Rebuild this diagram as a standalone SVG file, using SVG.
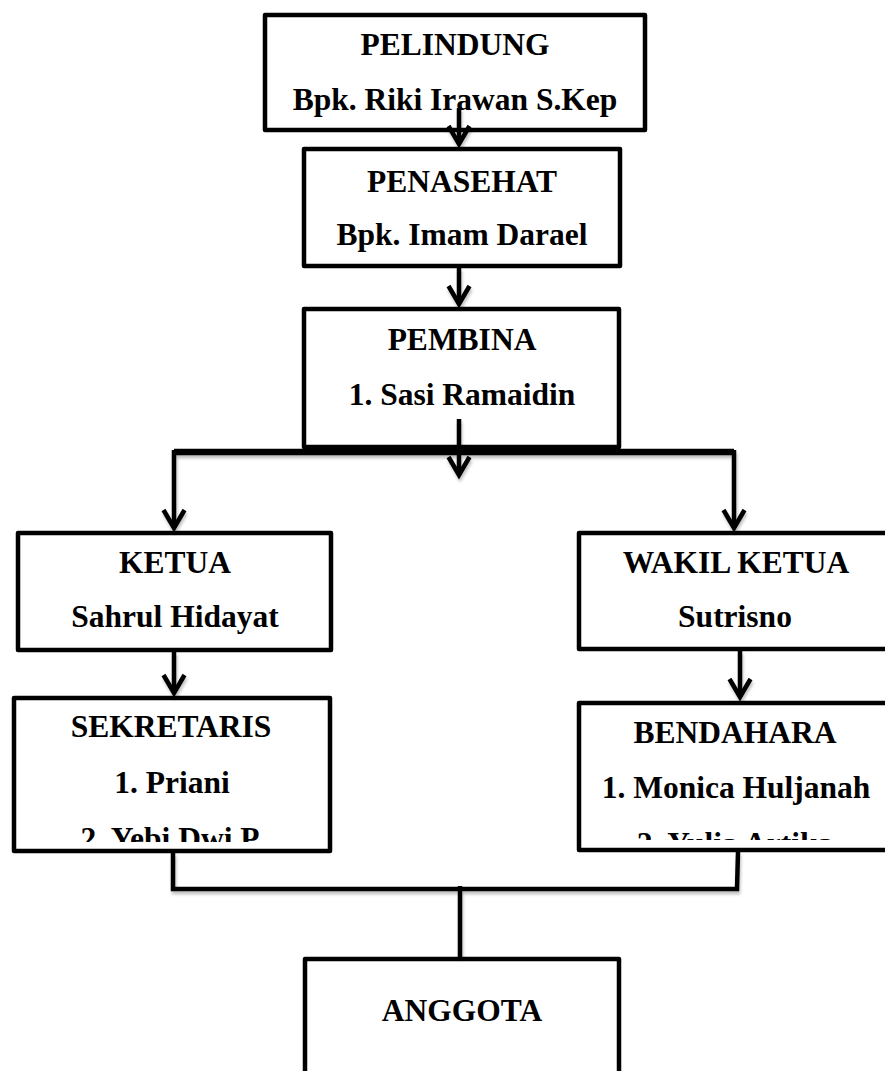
<svg xmlns="http://www.w3.org/2000/svg" width="885" height="1071" viewBox="0 0 885 1071">
  <style>
    .box { fill: #ffffff; stroke: #000000; stroke-width: 4.5; stroke-linejoin: round; }
    .t { font-family: "Liberation Serif", "Times New Roman", serif; font-weight: bold; font-size: 31.5px; fill: #000000; text-anchor: middle; }
    .c { fill: none; stroke: #000000; stroke-width: 4.5; stroke-linejoin: miter; }
    .thick { stroke-width: 6.5; }
  </style>
  <defs>
    <marker id="arrow" markerUnits="userSpaceOnUse" viewBox="-22 -14 26 28" markerWidth="26" markerHeight="28" refX="0" refY="0" orient="auto" overflow="visible">
      <path d="M-18,-10.5 L0,0 L-18,10.5" fill="none" stroke="#000000" stroke-width="4.5" stroke-linejoin="miter"/>
    </marker>
    <filter id="shadow" x="-10%" y="-10%" width="120%" height="140%">
      <feDropShadow dx="1" dy="3" stdDeviation="1.5" flood-color="#000000" flood-opacity="0.25"/>
    </filter>
    <clipPath id="clipSek"><rect x="14" y="698" width="316" height="144"/></clipPath>
    <clipPath id="clipBen"><rect x="579" y="703" width="320" height="137"/></clipPath>
  </defs>

  <!-- nodes -->
  <g id="pelindung">
    <rect class="box" x="265" y="15" width="380" height="115"/>
    <text class="t" x="455" y="55">PELINDUNG</text>
    <text class="t" x="455" y="110">Bpk. Riki Irawan S.Kep</text>
  </g>
  <g id="penasehat">
    <rect class="box" x="304" y="149" width="316" height="117"/>
    <text class="t" x="462" y="192">PENASEHAT</text>
    <text class="t" x="462" y="245">Bpk. Imam Darael</text>
  </g>
  <g id="pembina">
    <rect class="box" x="304" y="309" width="315" height="138"/>
    <text class="t" x="462" y="350">PEMBINA</text>
    <text class="t" x="462" y="405">1. Sasi Ramaidin</text>
  </g>
  <g id="ketua">
    <rect class="box" x="18" y="533" width="313" height="117"/>
    <text class="t" x="175" y="573">KETUA</text>
    <text class="t" x="175" y="627">Sahrul Hidayat</text>
  </g>
  <g id="wakil-ketua">
    <rect class="box" x="579" y="533" width="320" height="116"/>
    <text class="t" x="736" y="573">WAKIL KETUA</text>
    <text class="t" x="735" y="627">Sutrisno</text>
  </g>
  <g id="sekretaris">
    <rect class="box" x="14" y="698" width="316" height="153"/>
    <text class="t" x="171" y="737">SEKRETARIS</text>
    <text class="t" x="172" y="793">1. Priani</text>
    <g clip-path="url(#clipSek)">
      <text class="t" x="170" y="849">2. Yebi Dwi P</text>
    </g>
  </g>
  <g id="bendahara">
    <rect class="box" x="579" y="703" width="320" height="147"/>
    <text class="t" x="735" y="743">BENDAHARA</text>
    <text class="t" x="736" y="798">1. Monica Huljanah</text>
    <g clip-path="url(#clipBen)">
      <text class="t" x="735" y="854">2. Yulia Artika</text>
    </g>
  </g>
  <g id="anggota">
    <rect class="box" x="305" y="959" width="314" height="150"/>
    <text class="t" x="462" y="1021">ANGGOTA</text>
  </g>

  <!-- connectors -->
  <g id="connectors" filter="url(#shadow)">
    <line class="c" x1="459" y1="108" x2="459" y2="144" marker-end="url(#arrow)"/>
    <line class="c" x1="459" y1="268" x2="459" y2="304" marker-end="url(#arrow)"/>
    <line class="c" x1="459" y1="419" x2="459" y2="475" marker-end="url(#arrow)"/>
    <polyline class="c thick" points="174,452 734,452"/>
    <line class="c" x1="174" y1="450" x2="174" y2="528" marker-end="url(#arrow)"/>
    <line class="c" x1="734" y1="450" x2="734" y2="528" marker-end="url(#arrow)"/>
    <line class="c" x1="174" y1="652" x2="174" y2="693" marker-end="url(#arrow)"/>
    <line class="c" x1="740" y1="651" x2="740" y2="697" marker-end="url(#arrow)"/>
    <polyline class="c" points="173,853 173,889 737,889 738,852"/>
    <line class="c" x1="460" y1="886" x2="460" y2="957"/>
  </g>
</svg>
